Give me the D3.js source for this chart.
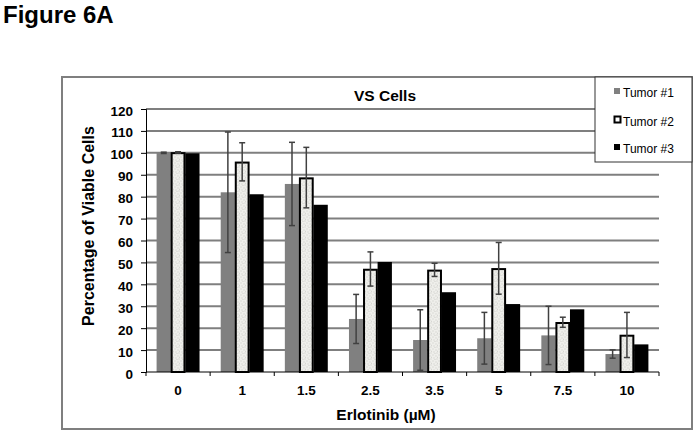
<!DOCTYPE html>
<html>
<head>
<meta charset="utf-8">
<script src="https://cdn.jsdelivr.net/npm/d3@7"></script>
<style>
html,body{margin:0;padding:0;background:#fff;}
svg{display:block;font-family:"Liberation Sans",Arial,sans-serif;}
</style>
</head>
<body>
<svg id="chart" width="698" height="435"></svg>
<script>
const categories = ["0","1","1.5","2.5","3.5","5","7.5","10"];
const seriesNames = ["Tumor #1","Tumor #2","Tumor #3"];
const tumor1 = [100, 82, 85.8, 24.2, 14.6, 15.4, 16.7, 8.2];
const tumor1Err = [0.3, 27.5, 19, 11.2, 13.8, 11.8, 13.3, 1.9];
const tumor2 = [100.2, 95.9, 88.7, 47, 46.6, 47.3, 22.7, 16.9];
const tumor2Err = [0.3, 8.7, 13.8, 7.8, 3, 11.8, 2.3, 10.3];
const tumor3 = [99.8, 81.1, 76.3, 50.2, 36.4, 31, 28.6, 12.6];
const yTicks = [0,10,20,30,40,50,60,70,80,90,100,110,120];

const svg = d3.select("#chart");

// pattern for Tumor #2 (speckled light fill)
const defs = svg.append("defs");
const pat = defs.append("pattern").attr("id","speck").attr("patternUnits","userSpaceOnUse")
  .attr("width",6).attr("height",6);
pat.append("rect").attr("width",6).attr("height",6).attr("fill","#efefeb");
[[0.5,0.5],[3.5,1.5],[1.5,3.5],[4.5,4.5],[2.5,5.2],[5.2,2.8]].forEach(p=>{
  pat.append("rect").attr("x",p[0]).attr("y",p[1]).attr("width",1).attr("height",1).attr("fill","#c8c8c4");
});

// Figure label
svg.append("text").attr("x",3).attr("y",23).attr("font-size",24).attr("font-weight","bold")
  .attr("fill","#000").text("Figure 6A");

// chart border
svg.append("rect").attr("x",62).attr("y",77).attr("width",630).attr("height",352)
  .attr("fill","#fff").attr("stroke","#7f7f7f").attr("stroke-width",2);

const pLeft=146, pRight=659, pTop=109, pBottom=372;
const x = d3.scaleBand().domain(categories).range([pLeft,pRight]).padding(0);
const xInner = d3.scaleBand().domain(seriesNames).range([0,x.bandwidth()]).paddingInner(0).paddingOuter(0.74);
const y = d3.scaleLinear().domain([0,120]).range([pBottom,pTop]);

// gridlines
svg.append("g").selectAll("line").data(yTicks.filter(d=>d>0)).join("line")
  .attr("x1",pLeft).attr("x2",pRight).attr("y1",d=>y(d)).attr("y2",d=>y(d))
  .attr("stroke","#7f7f7f").attr("stroke-width",2);

const series = [
  {name:seriesNames[0], vals:tumor1, err:tumor1Err, fill:"#808080", stroke:"none"},
  {name:seriesNames[1], vals:tumor2, err:tumor2Err, fill:"url(#speck)", stroke:"#000"},
  {name:seriesNames[2], vals:tumor3, err:null, fill:"#000", stroke:"none"}
];

const bars = svg.append("g");
series.forEach(s=>{
  const sw = s.stroke!=="none" ? 0.75 : 0;
  bars.append("g").selectAll("rect").data(categories).join("rect")
    .attr("x",(c)=>x(c)+xInner(s.name)+sw)
    .attr("width",xInner.bandwidth()-2*sw)
    .attr("y",(c,i)=>y(s.vals[i])+sw)
    .attr("height",(c,i)=>y(0)-y(s.vals[i])-sw)
    .attr("fill",s.fill).attr("stroke",s.stroke).attr("stroke-width",sw?2:0);
});

// error bars
const eb = svg.append("g").attr("stroke","#404040").attr("stroke-width",1.5).attr("fill","none");
series.filter(s=>s.err).forEach(s=>{
  categories.forEach((c,i)=>{
    const cx = x(c)+xInner(s.name)+xInner.bandwidth()/2;
    const hi = y(s.vals[i]+s.err[i]), lo = y(s.vals[i]-s.err[i]);
    eb.append("line").attr("x1",cx).attr("x2",cx).attr("y1",hi).attr("y2",lo);
    eb.append("line").attr("x1",cx-3).attr("x2",cx+3).attr("y1",hi).attr("y2",hi);
    eb.append("line").attr("x1",cx-3).attr("x2",cx+3).attr("y1",lo).attr("y2",lo);
  });
});

// axes
const yAxis = d3.axisLeft(y).tickValues(yTicks).tickSize(5).tickPadding(8);
const gy = svg.append("g").attr("transform",`translate(${pLeft},0)`).call(yAxis);
gy.select(".domain").attr("stroke","#000").attr("stroke-width",1);
gy.selectAll(".tick line").attr("stroke","#000");
gy.selectAll("text").attr("font-size",13.5).attr("font-weight","bold").attr("fill","#000")
  .attr("dy","0.45em")
  .attr("font-family","Liberation Sans, Arial, sans-serif");

const gx = svg.append("g").attr("transform",`translate(0,${pBottom})`);
gx.append("line").attr("x1",pLeft).attr("x2",pRight).attr("y1",0).attr("y2",0).attr("stroke","#000");
const bounds = categories.map(c=>x(c)).concat([pRight]);
gx.selectAll("line.tk").data(bounds).join("line").attr("class","tk")
  .attr("x1",d=>d).attr("x2",d=>d).attr("y1",0).attr("y2",4).attr("stroke","#000");
gx.selectAll("text").data(categories).join("text")
  .attr("x",c=>x(c)+x.bandwidth()/2).attr("y",23).attr("text-anchor","middle")
  .attr("font-size",13.5).attr("font-weight","bold").attr("fill","#000").text(c=>c);

// title and axis labels
svg.append("text").attr("x",385).attr("y",101).attr("text-anchor","middle")
  .attr("font-size",15.5).attr("font-weight","bold").text("VS Cells");
svg.append("text").attr("x",386).attr("y",420).attr("text-anchor","middle")
  .attr("font-size",15.5).attr("font-weight","bold").text("Erlotinib (µM)");
svg.append("text").attr("transform","translate(94,226) rotate(-90)").attr("text-anchor","middle")
  .attr("font-size",16).attr("font-weight","bold").text("Percentage of Viable Cells");

// legend
const lg = svg.append("g");
lg.append("rect").attr("x",595).attr("y",77).attr("width",97).attr("height",85)
  .attr("fill","#fff").attr("stroke","#333").attr("stroke-width",1);
const ly = [97,126,153];
series.forEach((s,i)=>{
  if(i===1){
    lg.append("rect").attr("x",614.5).attr("y",ly[i]-9.5).attr("width",6).attr("height",6)
      .attr("fill","#fff").attr("stroke","#000").attr("stroke-width",2);
  } else {
    lg.append("rect").attr("x",614).attr("y",ly[i]-9).attr("width",6).attr("height",6)
      .attr("fill",s.fill);
  }
  lg.append("text").attr("x",623).attr("y",ly[i]).attr("font-size",12).attr("fill","#000").text(s.name);
});
</script>
</body>
</html>
